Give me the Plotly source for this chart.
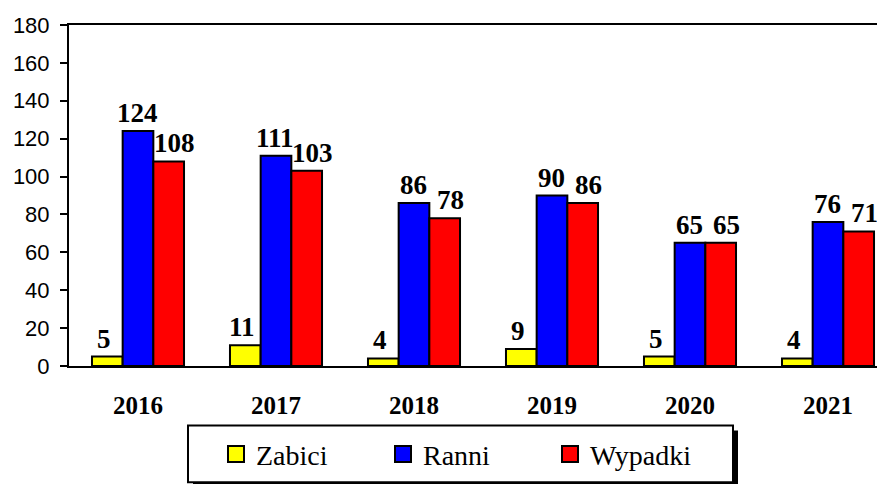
import plotly.graph_objects as go

years = ["2016", "2017", "2018", "2019", "2020", "2021"]
zabici = [5, 11, 4, 9, 5, 4]
ranni = [124, 111, 86, 90, 65, 76]
wypadki = [108, 103, 78, 86, 65, 71]
series_names = ["Zabici", "Ranni", "Wypadki"]
colors = ["#FFFF00", "#0000FF", "#FF0000"]
y_ticks = [0, 20, 40, 60, 80, 100, 120, 140, 160, 180]

# page has an 8px body margin; work in page pixels and convert
OFF = 8
W, H = 885 - OFF, 484 - OFF
L, T = 69 - OFF, 25 - OFF
R = 0
B = H - (366.5 - OFF)
pw, ph = W - L - R, H - T - B
CAT_PX = 138.0
BARGAP = 0.333
bar_w = CAT_PX * (1 - BARGAP) / 3

def px_x(p):  # page px -> paper
    return (p - OFF - L) / pw

def px_y(p):
    return (H - B - (p - OFF)) / ph

SERIF = "Liberation Serif"

fig = go.Figure()
series = [zabici, ranni, wypadki]
label_nudge = [-3, -1, 6]
for i, (name, vals, col) in enumerate(zip(series_names, series, colors)):
    fig.add_trace(go.Bar(
        x=years, y=vals, name=name, showlegend=False,
        marker=dict(color=col, line=dict(color="black", width=2)),
        hoverinfo="x+y",
    ))
    # legend entry with a larger swatch
    fig.add_trace(go.Scatter(
        x=[None], y=[None], name=name, mode="markers",
        marker=dict(symbol="square", size=16, color=col, line=dict(color="black", width=2)),
    ))
    for j, v in enumerate(vals):
        fig.add_annotation(
            x=j, y=v, xref="x", yref="y", text=str(v), showarrow=False,
            xanchor="center", yanchor="bottom",
            xshift=(i - 1) * bar_w + label_nudge[i], yshift=1,
            font=dict(family=SERIF, size=27, color="black", weight="bold"),
        )

# legend box with shadow
bx0, bx1, by0, by1 = 188, 733, 426, 483
fig.add_shape(type="rect", xref="paper", yref="paper",
              x0=px_x(bx0 + 5), x1=px_x(bx1 + 5), y0=px_y(by1 + 5), y1=px_y(by0 + 5),
              fillcolor="black", line=dict(width=0), layer="above")
fig.add_shape(type="rect", xref="paper", yref="paper",
              x0=px_x(bx0), x1=px_x(bx1), y0=px_y(by1), y1=px_y(by0),
              fillcolor="white", line=dict(color="black", width=2), layer="above")

fig.update_layout(
    width=W, height=H,
    margin=dict(l=L, r=R, t=T, b=B, pad=0),
    paper_bgcolor="white", plot_bgcolor="white",
    font=dict(family=SERIF),
    barmode="group", bargap=BARGAP, bargroupgap=0,
    showlegend=True,
    legend=dict(orientation="h", x=px_x(216), xanchor="left",
                y=px_y(455), yanchor="middle",
                bgcolor="rgba(0,0,0,0)", borderwidth=0,
                font=dict(family=SERIF, size=28, color="black"),
                entrywidth=122, entrywidthmode="pixels",
                itemsizing="trace", traceorder="normal"),
    xaxis=dict(type="category", range=[-0.5, -0.5 + pw / CAT_PX], showline=True, mirror=True,
               linecolor="black", linewidth=2, ticks="", showgrid=False,
               tickfont=dict(family=SERIF, size=25, color="black", weight="bold"),
               ticklabelstandoff=16),
    yaxis=dict(range=[0, 180], tickvals=y_ticks, showline=True, linecolor="black",
               linewidth=2, ticks="outside", ticklen=7, tickwidth=2, tickcolor="black",
               showgrid=False, zeroline=False,
               tickfont=dict(family="Liberation Sans", size=22, color="black"),
               ticklabelstandoff=6),
)

fig.write_html("out.html")
